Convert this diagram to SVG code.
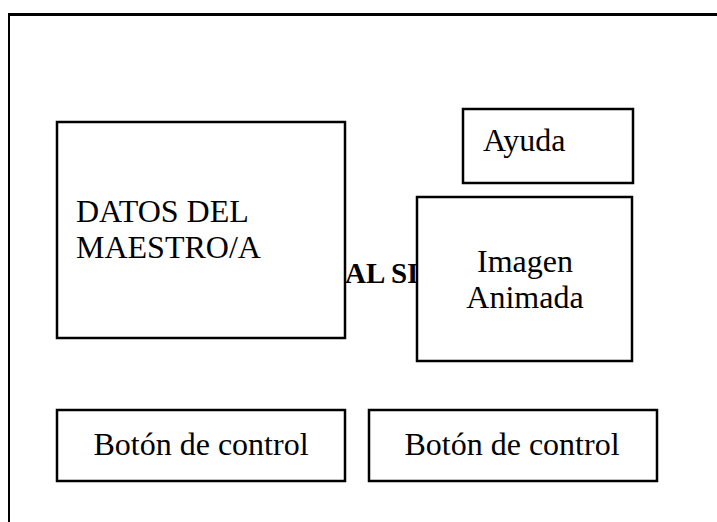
<svg xmlns="http://www.w3.org/2000/svg" width="717" height="522" viewBox="0 0 717 522">
<style>
.box{fill:#fff;stroke:#000;stroke-width:2.5}
.t{font-family:"Liberation Serif","Times New Roman",serif;font-size:32px;fill:#000}
.b{font-family:"Liberation Serif","Times New Roman",serif;font-size:29px;font-weight:bold;fill:#000}
.frame{stroke:#000;fill:none}
</style>
<rect width="717" height="522" fill="#fff"/>
<g id="frame">
<line class="frame" x1="8" y1="14.5" x2="717" y2="14.5" stroke-width="3"/>
<line class="frame" x1="9" y1="13" x2="9" y2="522" stroke-width="2"/>
</g>
<g id="title">
<text class="b" x="345" y="283">AL SI</text>
</g>
<g id="datos">
<rect class="box" x="57" y="122" width="288" height="216"/>
<text class="t" x="76" y="222">DATOS DEL</text>
<text class="t" x="76" y="258">MAESTRO/A</text>
</g>
<g id="ayuda">
<rect class="box" x="463" y="109" width="170" height="74"/>
<text class="t" x="483" y="151">Ayuda</text>
</g>
<g id="imagen">
<rect class="box" x="417" y="197" width="215" height="164"/>
<text class="t" x="525" y="272" text-anchor="middle">Imagen</text>
<text class="t" x="525" y="308" text-anchor="middle">Animada</text>
</g>
<g id="boton1">
<rect class="box" x="57" y="410" width="288" height="71"/>
<text class="t" x="201" y="455" text-anchor="middle">Botón de control</text>
</g>
<g id="boton2">
<rect class="box" x="369" y="410" width="288" height="71"/>
<text class="t" x="512" y="455" text-anchor="middle">Botón de control</text>
</g>
<g id="connectors"></g>
</svg>
